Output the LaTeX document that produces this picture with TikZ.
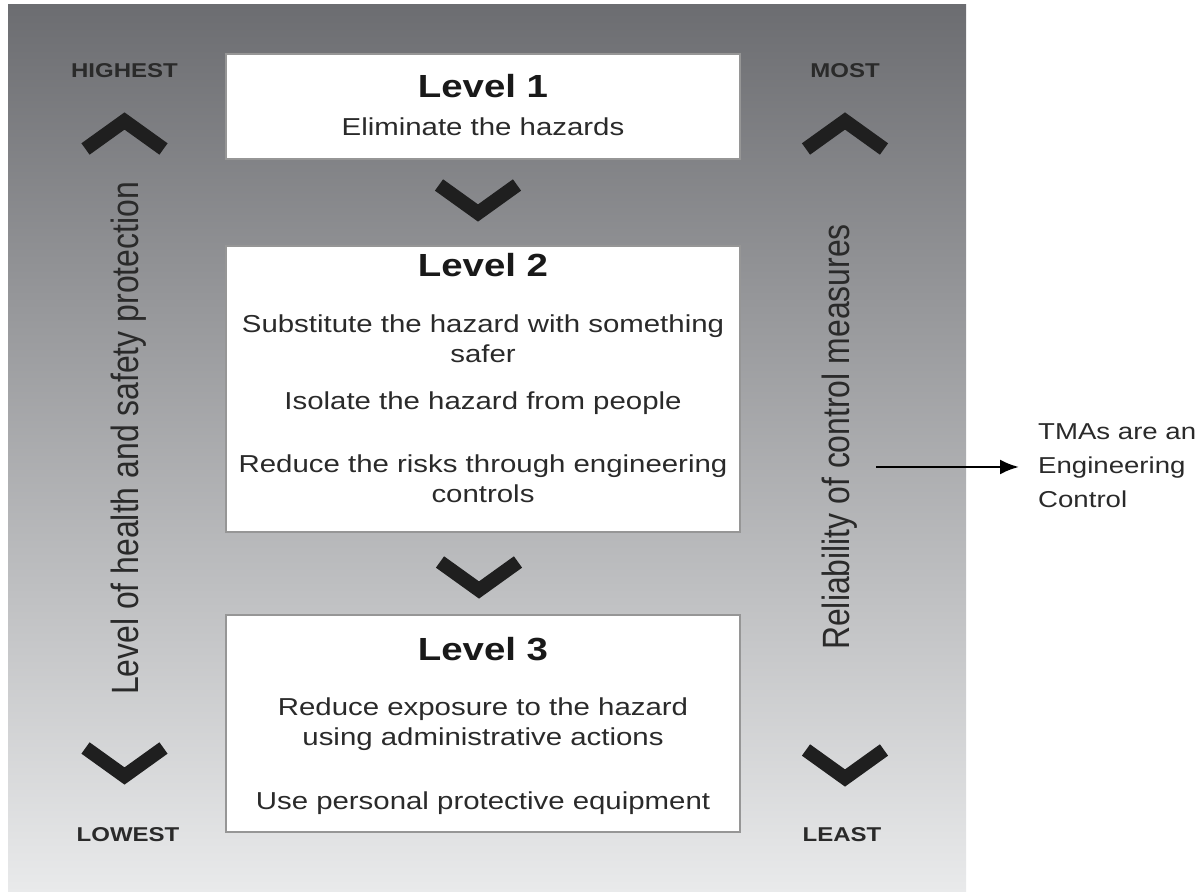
\documentclass[tikz,border=0pt]{standalone}
\usepackage{fontspec}
\setmainfont{Liberation Sans}[FakeStretch=1.2]
\newfontfamily\sidefont{Liberation Sans}[FakeStretch=0.84]
\usetikzlibrary{arrows.meta}
\definecolor{paneltop}{RGB}{108,109,113}
\definecolor{panelbot}{RGB}{233,234,235}
\definecolor{inkgray}{RGB}{42,42,42}
\definecolor{edgegray}{RGB}{150,150,150}
\begin{document}
\begin{tikzpicture}[x=1pt,y=1pt]
\tikzset{lvlbox/.style={draw=edgegray, line width=1.2pt, fill=white, minimum width=514pt, inner sep=0pt},
  lvltitle/.style={font=\fontsize{32}{38}\selectfont\bfseries, text=black!90},
  lvltext/.style={font=\fontsize{24.5}{30}\selectfont, text=inkgray, align=center},
  endlabel/.style={font=\fontsize{20}{24}\selectfont\bfseries, text=inkgray},
  sidetext/.style={font=\fontsize{38}{44}\sidefont, text=inkgray, rotate=90},
  chevron/.style={line width=14pt, draw=black!88, miter limit=10}}
    \path[fill=white, use as bounding box] (0,0) rectangle (1203,893);
    \shade[top color=paneltop, bottom color=panelbot] (8,1) rectangle (966,888);

    \node[lvlbox, minimum height=105pt] at (483,786.5) (lvl1) {};
    \node[lvlbox, minimum height=286pt] at (483,504) (lvl2) {};
    \node[lvlbox, minimum height=217pt] at (483,169.5) (lvl3) {};

    \node[lvltitle] at (483,807) (head1) {Level 1};
    \node[lvltext] at (483,766) (elim) {Eliminate the hazards};

    \node[lvltitle] at (483,628) (head2) {Level 2};
    \node[lvltext] at (483,554) (subst) {Substitute the hazard with something\\safer};
    \node[lvltext] at (483,489.5) (isol) {Isolate the hazard from people};
    \node[lvltext] at (483,414.5) (engi) {Reduce the risks through engineering\\controls};

    \node[lvltitle] at (483,244) (head3) {Level 3};
    \node[lvltext] at (483,169) (admin) {Reduce exposure to the hazard\\using administrative actions};
    \node[lvltext] at (483,89.5) (ppe) {Use personal protective equipment};

    \node[endlabel] at (124.5,822) (highest) {HIGHEST};
    \node[endlabel] at (128,58) (lowest) {LOWEST};
    \node[endlabel] at (845,822) (most) {MOST};
    \node[endlabel] at (842,58) (least) {LEAST};

    \node[sidetext] at (129,454.5) (protect) {Level of health and safety protection};
    \node[sidetext] at (840,456) (reliab) {Reliability of control measures};

    % chevrons
    \draw[chevron] (85.5,744) -- (124.5,772) -- (163.5,744);
    \draw[chevron] (806,744) -- (845,772) -- (884,744);
    \draw[chevron] (85.5,145) -- (124.5,117) -- (163.5,145);
    \draw[chevron] (806,143) -- (845,115) -- (884,143);
    \draw[chevron] (439,708) -- (478,680) -- (517,708);
    \draw[chevron] (440,331) -- (479,303) -- (518,331);

    \node[font=\fontsize{23}{34}\selectfont, text=inkgray, align=left, anchor=west, inner sep=4pt] at (1034,427) (tma) {TMAs are an\\Engineering\\Control};
    \coordinate (tail) at (876,426);
    \draw[line width=2.6pt, -{Latex[length=19pt,width=15pt]}, shorten >=15pt] (tail) -- (tail -| tma.west);
\end{tikzpicture}
\end{document}
